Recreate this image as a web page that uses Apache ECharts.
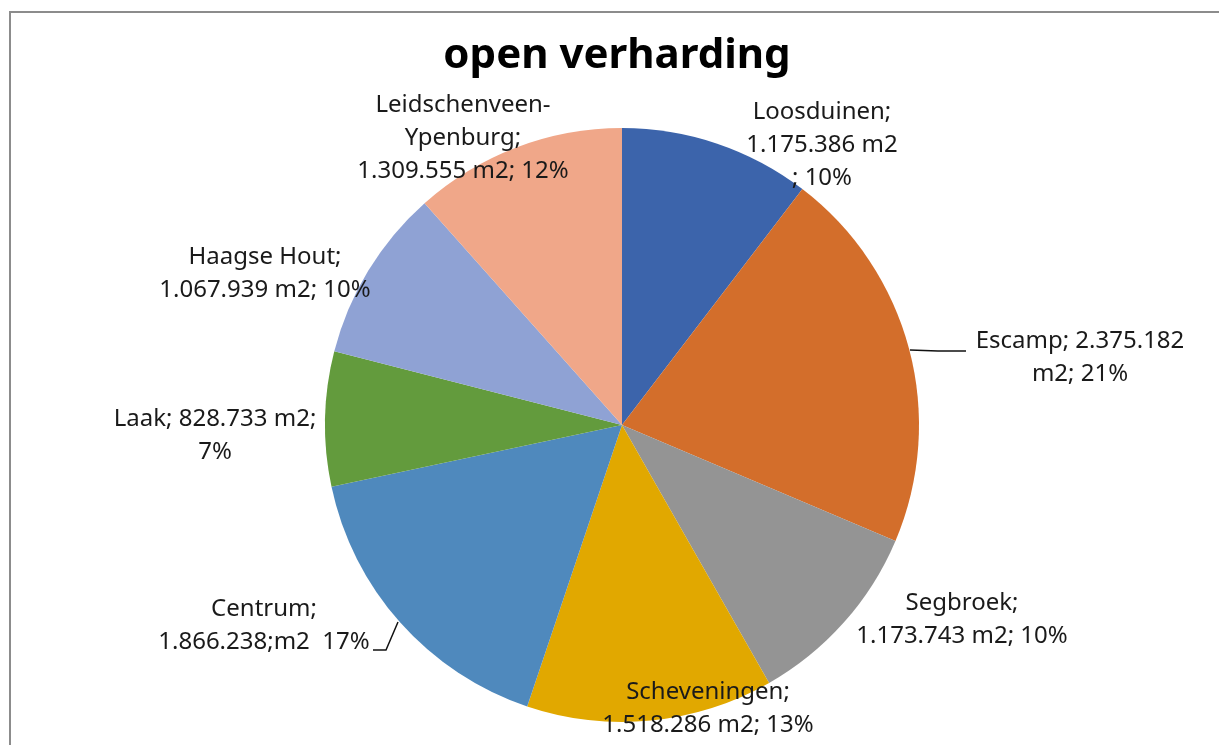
<!DOCTYPE html>
<html>
<head>
<meta charset="utf-8">
<script src="https://cdn.jsdelivr.net/npm/echarts@6/dist/echarts.min.js"></script>
<style>
  html, body { margin: 0; padding: 0; background: #fff; }
  #frame {
    position: absolute; left: 9px; top: 11px; width: 1220px; height: 740px;
    border-left: 2px solid #8c8c8c; border-top: 2px solid #8c8c8c;
  }
  #chart { position: absolute; left: 0; top: 0; width: 1219px; height: 745px; }
</style>
</head>
<body>
<div id="frame"></div>
<div id="chart"></div>
<script>
const districts = [
  "Loosduinen", "Escamp", "Segbroek", "Scheveningen",
  "Centrum", "Laak", "Haagse Hout", "Leidschenveen-Ypenburg"
];
const areaM2 = [1175386, 2375182, 1173743, 1518286, 1866238, 828733, 1067939, 1309555];
const labelTexts = [
  "Loosduinen;\n1.175.386 m2\n; 10%",
  "Escamp; 2.375.182\nm2; 21%",
  "Segbroek;\n1.173.743 m2; 10%",
  "Scheveningen;\n1.518.286 m2; 13%",
  "Centrum;\n1.866.238;m2  17%",
  "Laak; 828.733 m2;\n7%",
  "Haagse Hout;\n1.067.939 m2; 10%",
  "Leidschenveen-\nYpenburg;\n1.309.555 m2; 12%"
];
const colors = ["#3c64ab", "#d36e2b", "#949494", "#e1a800", "#4f89bd", "#639b3d", "#8fa2d4", "#f0a789"];

// where Excel put each label (centre of the text block)
const labelSpots = [
  [822, 145], [1080, 358], [962, 620], [708, 709],
  [264, 626], [215, 436], [265, 274], [463, 138]
];
const leaderLines = {
  1: [[910, 350], [938, 351], [966, 351]],
  4: [[398, 622], [386, 650], [373, 650]]
};

const chart = echarts.init(document.getElementById("chart"));

chart.setOption({
  backgroundColor: "transparent",
  animation: false,
  color: colors,
  title: {
    text: "open verharding",
    left: 612,
    top: 30,
    textAlign: "center",
    textStyle: { fontFamily: "Noto Sans", fontSize: 42, fontWeight: "bold", color: "#000" }
  },
  series: [
    {
      type: "pie",
      center: [622, 425],
      radius: [0, 297],
      startAngle: 90,
      clockwise: true,
      avoidLabelOverlap: false,
      itemStyle: { borderWidth: 0 },
      data: districts.map((name, i) => ({ name: name, value: areaM2[i] })),
      label: {
        show: true,
        position: "outside",
        formatter: (p) => labelTexts[p.dataIndex],
        fontFamily: "Noto Sans",
        fontSize: 24,
        lineHeight: 33,
        color: "#1a1a1a",
        align: "center"
      },
      labelLine: {
        show: true,
        lineStyle: { color: "#111", width: 1.5 }
      },
      labelLayout: (params) => {
        const i = params.dataIndex;
        const spot = labelSpots[i];
        return {
          x: spot[0],
          y: spot[1],
          align: "center",
          verticalAlign: "middle",
          labelLinePoints: leaderLines[i] || [[0, 0], [0, 0], [0, 0]]
        };
      }
    }
  ]
});

window.addEventListener("resize", () => chart.resize());
</script>
</body>
</html>
